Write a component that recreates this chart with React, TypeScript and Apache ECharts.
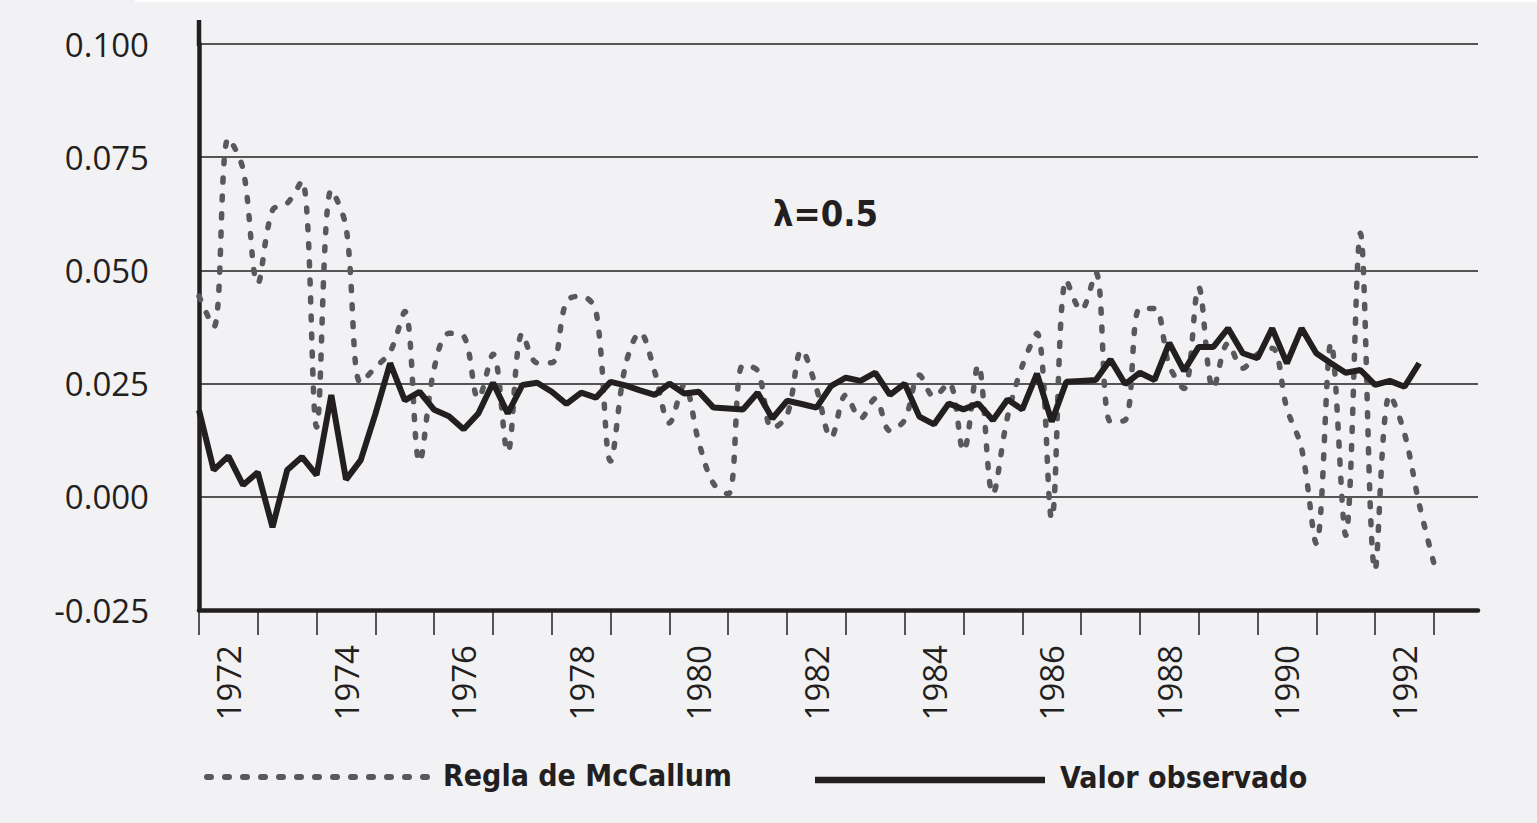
import React, { useEffect, useRef } from "react";
import * as echarts from "echarts";

// ---- data ----
const years = [1972, 1973, 1974, 1975, 1976, 1977, 1978, 1979, 1980, 1981, 1982, 1983, 1984, 1985, 1986, 1987, 1988, 1989, 1990, 1991, 1992, 1993];
const quarterSuffix = ["T1", "T2", "T3", "T4"];
const quarters = years.flatMap((y) => quarterSuffix.map((q) => `${y}${q}`));

const seriesNames = ["Regla de McCallum", "Valor observado"];
const annotation = "λ=0.5";

const mcCallum = [
  0.0443, 0.0375, 0.0792, 0.0723, 0.0471, 0.0633, 0.0648, 0.0698, 0.0154, 0.0678,
  0.0596, 0.0252, 0.0286, 0.0320, 0.0409, 0.0077, 0.0284, 0.0361, 0.0355, 0.0217,
  0.0315, 0.0099, 0.0361, 0.0296, 0.0296, 0.0432, 0.0443, 0.0411, 0.0079, 0.0289,
  0.0363, 0.0276, 0.0163, 0.0247, 0.0120, 0.0029, 0.0006, 0.0291, 0.0278, 0.0151,
  0.0180, 0.0324, 0.0239, 0.0131, 0.0225, 0.0173, 0.0217, 0.0146, 0.0170, 0.0269,
  0.0221, 0.0252, 0.0101, 0.0291, 0.0006, 0.0177, 0.0289, 0.0361, -0.0048, 0.0479,
  0.0412, 0.0495, 0.0166, 0.0169, 0.0416, 0.0416, 0.0290, 0.0239, 0.0463, 0.0239,
  0.0339, 0.0284, 0.0315, 0.0328, 0.0195, 0.0107, -0.0103, 0.0340, -0.0085, 0.0582,
  -0.0162, 0.0225, 0.0140, -0.0016, -0.0147,
];

const observado = [
  0.0191, 0.0059, 0.0090, 0.0026, 0.0054, -0.0067, 0.0059, 0.0088, 0.0048, 0.0225,
  0.0038, 0.0081, 0.0183, 0.0295, 0.0213, 0.0232, 0.0192, 0.0178, 0.0149, 0.0184,
  0.0252, 0.0184, 0.0247, 0.0252, 0.0232, 0.0205, 0.0230, 0.0219, 0.0254, 0.0246,
  0.0235, 0.0225, 0.0250, 0.0228, 0.0232, 0.0197, 0.0195, 0.0193, 0.0230, 0.0173,
  0.0212, 0.0205, 0.0197, 0.0245, 0.0263, 0.0256, 0.0274, 0.0225, 0.0250, 0.0177,
  0.0160, 0.0206, 0.0193, 0.0206, 0.0169, 0.0215, 0.0193, 0.0272, 0.0166, 0.0254,
  0.0256, 0.0258, 0.0303, 0.0249, 0.0274, 0.0258, 0.0340, 0.0278, 0.0331, 0.0331,
  0.0372, 0.0317, 0.0306, 0.0372, 0.0295, 0.0372, 0.0317, 0.0295, 0.0274, 0.0280,
  0.0247, 0.0256, 0.0243, 0.0295,
];

const yMin = -0.025;
const yMax = 0.1;
const yStep = 0.025;

// ---- styles ----
const INK = "#231f20";
const GREY = "#58595b";
const BG = "#f2f2f4";
const NUM_FONT = "'Open Sans', 'Noto Sans', sans-serif";
const COND_FONT = "'DejaVu Sans Condensed', 'Liberation Sans Narrow', 'DejaVu Sans', sans-serif";
const DASH = [4, 14];

export default function App() {
  const ref = useRef<HTMLDivElement>(null);

  useEffect(() => {
    if (!ref.current) return;
    const chart = echarts.init(ref.current, undefined, { renderer: "svg" });

    const legendFont = {
      fontFamily: COND_FONT,
      fontWeight: "bold",
      fontSize: 30,
      fill: INK,
    };

    const option: any = {
      animation: false,
      backgroundColor: BG,
      grid: { left: 199, top: 44, width: 1279, height: 566, containLabel: false },
      xAxis: {
        type: "category",
        data: quarters,
        boundaryGap: false,
        axisLine: { show: true, onZero: false, lineStyle: { color: INK, width: 4.5 } },
        axisTick: {
          show: true,
          interval: (i: number) => i % 4 === 0,
          length: 25,
          lineStyle: { color: INK, width: 1.5 },
        },
        axisLabel: {
          interval: (i: number) => i % 8 === 2,
          rotate: 90,
          margin: 35,
          formatter: (v: string) => v.slice(0, 4),
          fontSize: 33,
          color: INK,
          fontFamily: NUM_FONT,
        },
        splitLine: { show: false },
      },
      yAxis: {
        type: "value",
        min: yMin,
        max: yMax,
        interval: yStep,
        axisLine: { show: true, lineStyle: { color: INK, width: 4.5 } },
        axisTick: { show: false },
        axisLabel: {
          formatter: (v: number) => v.toFixed(3),
          fontSize: 33,
          margin: 50,
          color: INK,
          fontFamily: NUM_FONT,
        },
        splitLine: { show: true, lineStyle: { color: INK, width: 1.5 } },
      },
      graphic: [
        { type: "rect", left: 135, top: 0, shape: { width: 1402, height: 2 }, style: { fill: "#ffffff" }, silent: true },
        { type: "line", shape: { x1: 199, y1: 20, x2: 199, y2: 46 }, style: { stroke: INK, lineWidth: 4.5 }, silent: true },
        {
          type: "text",
          left: 773,
          top: 195,
          style: { text: annotation, fontFamily: COND_FONT, fontWeight: "bold", fontSize: 36, fill: INK },
        },
        // legend
        {
          type: "line",
          shape: { x1: 207, y1: 777, x2: 430, y2: 777 },
          style: { stroke: GREY, lineWidth: 6, lineDash: DASH, lineCap: "round" },
          silent: true,
        },
        {
          type: "text",
          left: 443,
          top: 760,
          style: { text: seriesNames[0], ...legendFont },
        },
        {
          type: "line",
          shape: { x1: 815, y1: 780, x2: 1045, y2: 780 },
          style: { stroke: INK, lineWidth: 6.5 },
          silent: true,
        },
        {
          type: "text",
          left: 1060,
          top: 762,
          style: { text: seriesNames[1], ...legendFont },
        },
      ],
      series: [
        {
          name: seriesNames[0],
          type: "line",
          data: mcCallum,
          smooth: 0.35,
          symbol: "none",
          z: 2,
          itemStyle: { color: GREY },
          lineStyle: { color: GREY, width: 5.5, type: DASH, cap: "round" },
        },
        {
          name: seriesNames[1],
          type: "line",
          data: observado,
          symbol: "none",
          z: 3,
          itemStyle: { color: INK },
          lineStyle: { color: INK, width: 6 },
        },
      ],
    };

    chart.setOption(option);
    return () => chart.dispose();
  }, []);

  return (
    <div
      ref={ref}
      style={{ position: "absolute", left: 0, top: 0, width: 1537, height: 823 }}
    />
  );
}
